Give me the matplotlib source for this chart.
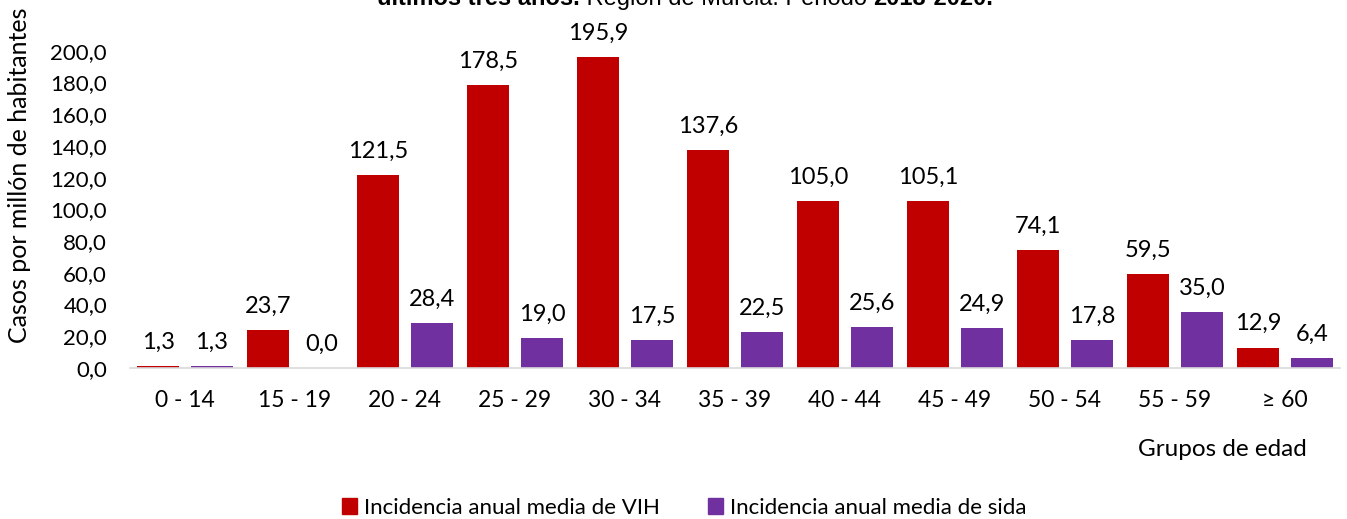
import numpy as np
import matplotlib
matplotlib.use('Agg')
import matplotlib.pyplot as plt
from matplotlib.patches import Patch

# datos
grupos = ['0 - 14', '15 - 19', '20 - 24', '25 - 29', '30 - 34', '35 - 39',
          '40 - 44', '45 - 49', '50 - 54', '55 - 59', '≥ 60']
vih  = [1.3, 23.7, 121.5, 178.5, 195.9, 137.6, 105.0, 105.1, 74.1, 59.5, 12.9]
sida = [1.3, 0.0, 28.4, 19.0, 17.5, 22.5, 25.6, 24.9, 17.8, 35.0, 6.4]
y_ticks = [0, 20, 40, 60, 80, 100, 120, 140, 160, 180, 200]

C_VIH  = '#C00000'
C_SIDA = '#7030A0'
FONT = ['Lato', 'DejaVu Sans']

plt.rcParams['font.family'] = FONT

W, H = 1347, 519
fig = plt.figure(figsize=(W / 100, H / 100), dpi=100)
fig.patch.set_facecolor('white')

ax_l, ax_r, ax_b, ax_t = 130, 1340, 368, 19
ax = fig.add_axes([ax_l / W, (H - ax_b) / H, (ax_r - ax_l) / W, (ax_b - ax_t) / H])

x = np.arange(len(grupos))
bw = 0.382
off = 0.245
b1 = ax.bar(x - off, vih, bw, color=C_VIH, label='Incidencia anual media de VIH')
b2 = ax.bar(x + off, sida, bw, color=C_SIDA, label='Incidencia anual media de sida')

fmt = lambda v: f'{v:.1f}'.replace('.', ',')
for bars, vals in ((b1, vih), (b2, sida)):
    for rect, v in zip(bars, vals):
        ax.annotate(fmt(v), (rect.get_x() + rect.get_width() / 2, v),
                    xytext=(0, 9.5), textcoords='offset points',
                    ha='center', va='bottom', fontsize=17, color='#000000')

ax.set_xlim(-0.5, len(grupos) - 0.5)
ax.set_ylim(0, 220)
ax.set_yticks(y_ticks)
ax.set_yticklabels([fmt(t) for t in y_ticks], fontsize=16)
ax.set_xticks(x)
ax.set_xticklabels(grupos, fontsize=16.5)
ax.tick_params(axis='both', length=0)
ax.tick_params(axis='y', pad=16.5)
ax.tick_params(axis='x', pad=16)

for s in ('top', 'right', 'left'):
    ax.spines[s].set_visible(False)
ax.spines['bottom'].set_color('#D9D9D9')
ax.spines['bottom'].set_linewidth(1.2)

fig.text(20 / W, 1 - 175 / H, 'Casos por millón de habitantes', rotation=90,
         ha='center', va='center', fontsize=18)
fig.text(1222 / W, 1 - 450 / H, 'Grupos de edad', ha='center', va='center',
         fontsize=17.5)

fig.legend(handles=[Patch(color=C_VIH, label='Incidencia anual media de VIH'),
                    Patch(color=C_SIDA, label='Incidencia anual media de sida')],
           loc='center', bbox_to_anchor=(684 / W, 1 - 508 / H), ncol=2,
           frameon=False, fontsize=16, handlelength=0.7, handleheight=0.7,
           handletextpad=0.3, columnspacing=2.15)

# título cortado por arriba
partes = [('últimos tres años.', 'bold'), (' Región de Murcia. Periodo ', 'normal'),
          ('2018-2020.', 'bold')]
r = fig.canvas.get_renderer()
xpos = 377 / W
ybase = 1 - 5 / H
for txt, wgt in partes:
    t = fig.text(xpos, ybase, txt, fontsize=17, fontweight=wgt, va='baseline',
                 ha='left', family=['Liberation Sans', 'DejaVu Sans'])
    bb = t.get_window_extent(renderer=r)
    xpos += bb.width / W

fig.savefig('out.png', dpi=100, facecolor='white')
